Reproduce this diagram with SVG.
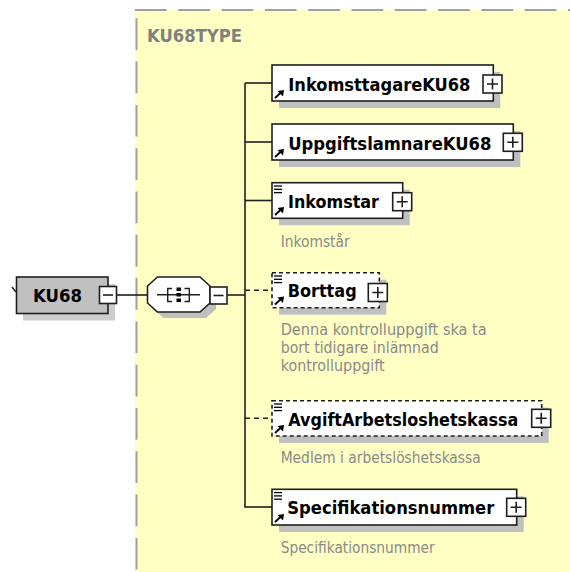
<svg xmlns="http://www.w3.org/2000/svg" width="570" height="572" viewBox="0 0 570 572">
<style>
text{font-family:"DejaVu Sans Condensed","DejaVu Sans","Liberation Sans",sans-serif;font-stretch:condensed}
.lbl{font-size:18px;font-weight:bold;fill:#000}
.desc{font-size:15.5px;fill:#8a8a8a}
.title{font-size:17px;font-weight:bold;fill:#808080}
.box{fill:#fff;stroke:#1e1e1e;stroke-width:1.6}
.opt{stroke-dasharray:4 3}
.shadow{fill:#c0c0c0}
.btn{fill:#fff;stroke:#1e1e1e;stroke-width:1.6}
.sign{stroke:#1e1e1e;stroke-width:1.6;fill:none}
.conn{stroke:#1e1e1e;stroke-width:1.6;fill:none}
.dash{stroke-dasharray:5 4}
.icon{stroke:#000;stroke-width:1.3;fill:none}
</style>
<defs>
<g id="ref">
<line x1="0" y1="7" x2="6" y2="1.5" stroke="#000" stroke-width="1.8"/>
<polygon points="9,-1 2.5,0 8,5.5" fill="#000"/>
</g>
<g id="lst">
<line x1="0" y1="0" x2="8" y2="0" class="icon"/>
<line x1="0" y1="3.3" x2="8" y2="3.3" class="icon"/>
<line x1="0" y1="6.6" x2="8" y2="6.6" class="icon"/>
</g>
</defs>
<rect x="0" y="0" width="570" height="572" fill="#fff"/>
<g id="KU68TYPE">
<rect x="135" y="10" width="435" height="562" fill="#ffffc4"/>
<line x1="135" y1="10" x2="570" y2="10" stroke="#a0a0a0" stroke-width="2" stroke-dasharray="31.7 11.6"/>
<line x1="136.5" y1="18.3" x2="136.5" y2="572" stroke="#a0a0a0" stroke-width="2" stroke-dasharray="31.7 11.6"/>
<text x="147" y="41.7" class="title" textLength="95" lengthAdjust="spacingAndGlyphs">KU68TYPE</text>
</g>
<g id="connectors">
<line x1="116.5" y1="295" x2="147.5" y2="295" class="conn"/>
<line x1="227" y1="295" x2="245" y2="295" class="conn"/>
<line x1="245" y1="83" x2="245" y2="507" class="conn"/>
<line x1="245" y1="83" x2="272" y2="83" class="conn"/>
<line x1="245" y1="142" x2="272" y2="142" class="conn"/>
<line x1="245" y1="200.5" x2="272" y2="200.5" class="conn"/>
<line x1="245" y1="290.2" x2="272" y2="290.2" class="conn dash"/>
<line x1="245" y1="418.3" x2="272" y2="418.3" class="conn dash"/>
<line x1="244.2" y1="507" x2="272" y2="507" class="conn"/>
</g>
<g id="KU68">
<rect x="23" y="284" width="92" height="36.5" fill="#cccccc"/>
<line x1="12" y1="287" x2="16" y2="292" stroke="#1e1e1e" stroke-width="1.4"/>
<rect x="16.5" y="277" width="91.5" height="36.5" fill="#c0c0c0" stroke="#1e1e1e" stroke-width="1.6"/>
<text x="33" y="301.5" class="lbl" textLength="49" lengthAdjust="spacingAndGlyphs">KU68</text>
<rect x="99.5" y="286.5" width="17" height="17" class="btn"/>
<line x1="103" y1="295" x2="113" y2="295" class="sign"/>
</g>
<g id="sequence">
<polygon points="163.5,283 206,283 216,292 216,309 206,318 163.5,318 153.5,309 153.5,292" class="shadow"/>
<polygon points="157.5,277 200,277 210,286 210,303 200,312 157.5,312 147.5,303 147.5,286" fill="#fff" stroke="#1e1e1e" stroke-width="1.6"/>
<line x1="157" y1="294.7" x2="200" y2="294.7" stroke="#1e1e1e" stroke-width="1.4"/>
<path d="M172,288.5 H167.7 V301.5 H172 M184.5,288.5 H189.3 V301.5 H184.5" stroke="#1e1e1e" stroke-width="1.4" fill="none"/>
<rect x="176.5" y="287.5" width="4.5" height="3.5" fill="#000"/>
<rect x="176.5" y="293" width="4.5" height="3.5" fill="#000"/>
<rect x="176.5" y="298.5" width="4.5" height="3.5" fill="#000"/>
<rect x="210" y="287" width="17" height="17" class="btn"/>
<line x1="213.5" y1="295.5" x2="223.5" y2="295.5" class="sign"/>
</g>
<g id="InkomsttagareKU68">
<rect x="279" y="72" width="221.3" height="36" class="shadow"/>
<rect x="272" y="65" width="221.3" height="36" class="box"/>
<use href="#ref" x="275" y="91"/>
<text x="288.3" y="90.5" class="lbl" textLength="182" lengthAdjust="spacingAndGlyphs">InkomsttagareKU68</text>
<rect x="483" y="75" width="19" height="18" class="btn"/>
<path d="M487,84 H498 M492.5,78.5 V89.5" class="sign"/>
</g>
<g id="UppgiftslamnareKU68">
<rect x="279" y="131" width="241.3" height="36" class="shadow"/>
<rect x="272" y="124" width="241.3" height="36" class="box"/>
<use href="#ref" x="275" y="150"/>
<text x="288.3" y="149.5" class="lbl" textLength="203" lengthAdjust="spacingAndGlyphs">UppgiftslamnareKU68</text>
<rect x="503.3" y="133.3" width="19" height="18" class="btn"/>
<path d="M507.3,142.3 H518.3 M512.8,136.8 V147.8" class="sign"/>
</g>
<g id="Inkomstar">
<rect x="279" y="189.7" width="130.7" height="35.6" class="shadow"/>
<rect x="272" y="182.7" width="130.7" height="35.6" class="box"/>
<use href="#lst" x="274" y="186"/>
<use href="#ref" x="275" y="208"/>
<text x="288" y="207.6" class="lbl" textLength="91" lengthAdjust="spacingAndGlyphs">Inkomstar</text>
<rect x="392.7" y="192.7" width="19" height="18" class="btn"/>
<path d="M396.7,201.7 H407.7 M402.2,196.2 V207.2" class="sign"/>
<text x="280.7" y="246.5" class="desc" textLength="69" lengthAdjust="spacingAndGlyphs">Inkomstår</text>
</g>
<g id="Borttag">
<rect x="279" y="279.7" width="107.3" height="35" class="shadow"/>
<rect x="272" y="272.7" width="107.3" height="35" class="box opt"/>
<use href="#lst" x="274" y="276"/>
<use href="#ref" x="275" y="297.5"/>
<text x="287.7" y="297.3" class="lbl" textLength="69" lengthAdjust="spacingAndGlyphs">Borttag</text>
<rect x="368.3" y="283.5" width="19" height="18" class="btn"/>
<path d="M372.3,292.5 H383.3 M377.8,287 V298" class="sign"/>
<text x="280.7" y="334.8" class="desc" textLength="206" lengthAdjust="spacingAndGlyphs">Denna kontrolluppgift ska ta</text>
<text x="280.7" y="353.1" class="desc" textLength="158" lengthAdjust="spacingAndGlyphs">bort tidigare inlämnad</text>
<text x="280.7" y="371.4" class="desc" textLength="104" lengthAdjust="spacingAndGlyphs">kontrolluppgift</text>
</g>
<g id="AvgiftArbetsloshetskassa">
<rect x="279" y="407.7" width="269.7" height="35.3" class="shadow"/>
<rect x="272" y="400.7" width="269.7" height="35.3" class="box opt"/>
<use href="#lst" x="274" y="404"/>
<use href="#ref" x="275" y="426"/>
<text x="288.3" y="425.5" class="lbl" textLength="230" lengthAdjust="spacingAndGlyphs">AvgiftArbetsloshetskassa</text>
<rect x="531.7" y="409.3" width="19" height="18" class="btn"/>
<path d="M535.7,418.3 H546.7 M541.2,412.8 V423.8" class="sign"/>
<text x="280.7" y="463.3" class="desc" textLength="200" lengthAdjust="spacingAndGlyphs">Medlem i arbetslöshetskassa</text>
</g>
<g id="Specifikationsnummer">
<rect x="279" y="496.3" width="244.7" height="35.7" class="shadow"/>
<rect x="272" y="489.3" width="244.7" height="35.7" class="box"/>
<use href="#lst" x="274" y="492.6"/>
<use href="#ref" x="275" y="515"/>
<text x="287.3" y="514.2" class="lbl" textLength="207" lengthAdjust="spacingAndGlyphs">Specifikationsnummer</text>
<rect x="506.7" y="498.3" width="19" height="18" class="btn"/>
<path d="M510.7,507.3 H521.7 M516.2,501.8 V512.8" class="sign"/>
<text x="280.7" y="553.3" class="desc" textLength="154" lengthAdjust="spacingAndGlyphs">Specifikationsnummer</text>
</g>
</svg>
